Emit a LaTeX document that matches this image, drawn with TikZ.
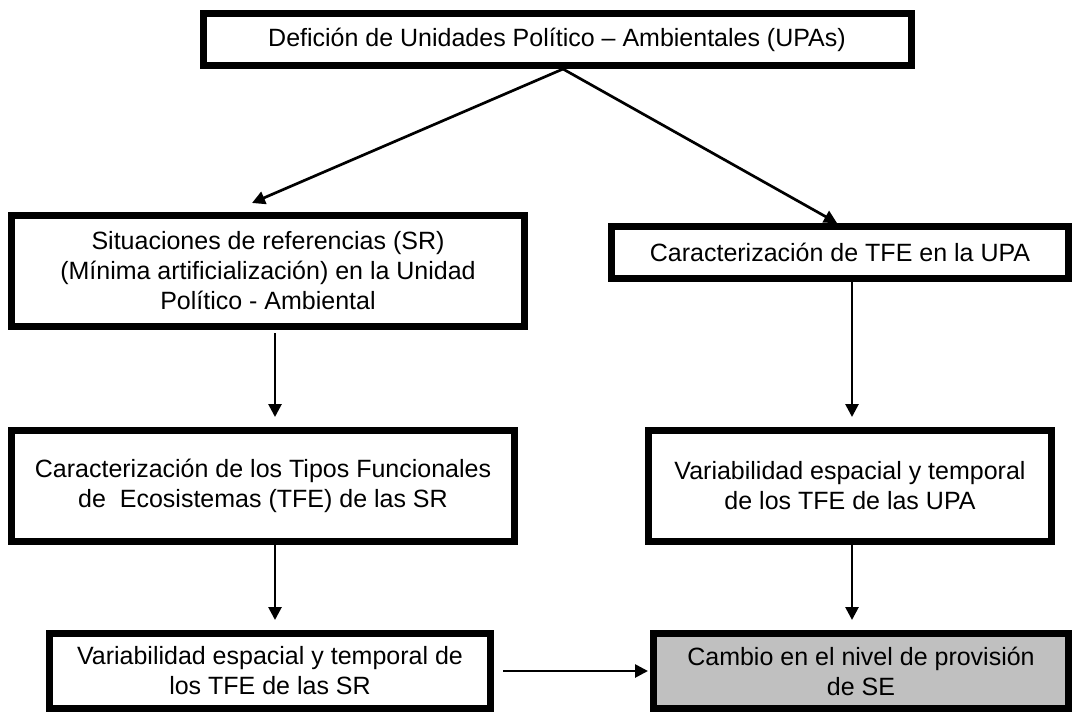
\documentclass[tikz,border=0pt]{standalone}
\usepackage{fontspec}
\setmainfont{Liberation Sans}
\usetikzlibrary{arrows.meta}

\begin{document}
\begin{tikzpicture}[x=1pt, y=-1pt,
    box/.style={draw, line width=7pt, align=center, inner sep=0pt,
        font=\fontsize{25}{30}\selectfont},
    arr/.style={-{Triangle[length=13pt, width=13pt]}, line width=2.7pt}]
    \useasboundingbox (0, 0) rectangle (1075, 712);
    % UPAs
    \node [box, minimum width=708pt, minimum height=52pt] (0) at (557, 39.5)
        {Defición de Unidades Político – Ambientales (UPAs)};
    \coordinate (9) at (563, 69); % apex
    % reference situations (left)
    \node [box, minimum width=513pt, minimum height=111pt] (1) at (268, 271)
        {Situaciones de referencias (SR)\\(Mínima artificialización) en la Unidad\\Político - Ambiental};
    \node [box, minimum width=503pt, minimum height=111pt] (3) at (263, 486)
        {Caracterización de los Tipos Funcionales\\de\ \ Ecosistemas (TFE) de las SR};
    \node [box, minimum width=441pt, minimum height=75pt] (5) at (270, 671)
        {Variabilidad espacial y temporal de\\los TFE de las SR};
    % UPA (right)
    \node [box, minimum width=457pt, minimum height=52pt] (2) at (840, 252.5)
        {Caracterización de TFE en la UPA};
    \node [box, minimum width=403pt, minimum height=111pt] (4) at (850, 486)
        {Variabilidad espacial y temporal\\de los TFE de las UPA};
    \node [box, fill={rgb,255:red,192;green,192;blue,192}, minimum width=415pt, minimum height=75pt] (6) at (861, 671)
        {Cambio en el nivel de provisión\\de SE};
    % arrows
    \coordinate (7) at (252, 203);
    \coordinate (8) at (837, 223);
    \coordinate (10) at (275, 0);
    \coordinate (11) at (852, 0);
    \draw [arr] (9) to (7);
    \draw [arr] (9) to (8);
    \draw [arr, shorten <=3pt, shorten >=10pt] (10 |- 1.south) to (10 |- 3.north);
    \draw [arr, shorten >=10pt] (10 |- 3.south) to (10 |- 5.north);
    \draw [arr, shorten >=10pt] (11 |- 2.south) to (11 |- 4.north);
    \draw [arr, shorten >=10pt] (11 |- 4.south) to (11 |- 6.north);
    \draw [arr, shorten <=9pt, shorten >=2pt] (5) to (6);
\end{tikzpicture}
\end{document}
